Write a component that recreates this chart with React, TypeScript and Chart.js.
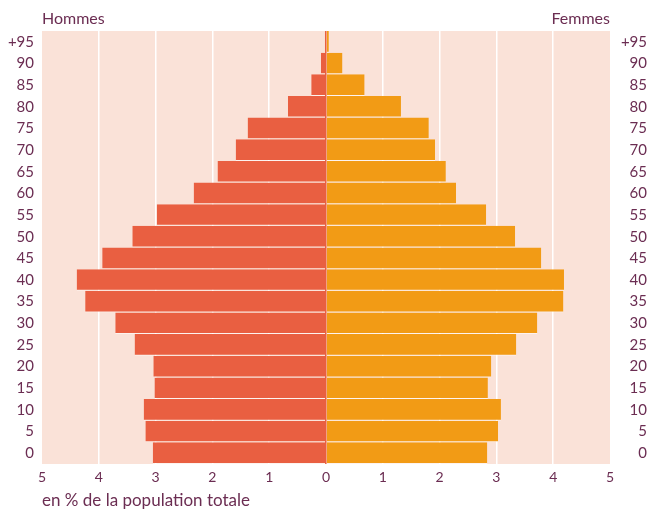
import { useEffect, useRef } from "react";
import { Chart, registerables } from "chart.js";

Chart.register(...registerables);

const ageGroups = ["+95", "90", "85", "80", "75", "70", "65", "60", "55", "50", "45", "40", "35", "30", "25", "20", "15", "10", "5", "0"];
const hommes = [0.02, 0.09, 0.26, 0.67, 1.38, 1.59, 1.91, 2.33, 2.98, 3.41, 3.94, 4.39, 4.24, 3.71, 3.37, 3.04, 3.02, 3.21, 3.18, 3.05];
const femmes = [0.05, 0.29, 0.68, 1.32, 1.81, 1.92, 2.11, 2.29, 2.82, 3.33, 3.79, 4.19, 4.18, 3.72, 3.35, 2.91, 2.85, 3.08, 3.03, 2.84];
const xMin = -5;
const xMax = 5;

const TEXT = "#6b2d52";
const FONT = "Lato";
const RED = "#e95f41";
const ORANGE = "#f29b15";

export default function App() {
  const ref = useRef<HTMLCanvasElement | null>(null);

  useEffect(() => {
    if (!ref.current) return;
    const bgPlugin = {
      id: "bg",
      beforeDraw(chart: any) {
        const { ctx, chartArea } = chart;
        ctx.save();
        ctx.fillStyle = "#fae2d8";
        ctx.fillRect(chartArea.left, chartArea.top, chartArea.right - chartArea.left, chartArea.bottom - chartArea.top);
        ctx.restore();
      },
      afterDraw(chart: any) {
        const { ctx, chartArea } = chart;
        ctx.save();
        ctx.fillStyle = TEXT;
        ctx.textBaseline = "alphabetic";
        ctx.font = `16px ${FONT}`;
        ctx.textAlign = "left";
        ctx.fillText("Hommes", chartArea.left, 24);
        ctx.textAlign = "right";
        ctx.fillText("Femmes", chartArea.right, 24);
        ctx.font = `17px ${FONT}`;
        ctx.textAlign = "left";
        ctx.fillText("en % de la population totale", chartArea.left, 506);
        ctx.restore();
      },
    };

    const barCommon = {
      borderColor: "rgba(255,255,255,0.6)",
      borderWidth: { top: 0, left: 0, right: 0, bottom: 1 },
      borderSkipped: false,
      inflateAmount: 0,
      barPercentage: 1,
      categoryPercentage: 1,
    };

    const chart = new Chart(ref.current, {
      type: "bar",
      data: {
        labels: ageGroups,
        datasets: [
          {
            label: "Hommes",
            data: hommes.map((v) => -v),
            backgroundColor: RED,
            ...barCommon,
          },
          {
            label: "Femmes",
            data: femmes,
            backgroundColor: ORANGE,
            ...barCommon,
          },
        ],
      },
      options: {
        indexAxis: "y",
        responsive: false,
        animation: false,
        layout: { padding: { top: 31, right: 2, left: 0, bottom: 0 } },
        plugins: {
          legend: { display: false },
          tooltip: { enabled: false },
        },
        scales: {
          x: {
            stacked: true,
            min: xMin,
            max: xMax,
            afterFit: (s: any) => {
              s.height = 46;
            },
            ticks: {
              stepSize: 1,
              color: TEXT,
              font: { family: FONT, size: 14 },
              padding: 5,
              callback: (v: any) => String(Math.abs(Number(v))),
            },
            grid: {
              drawTicks: false,
              lineWidth: 1.5,
              color: (c: any) => {
                const v = c.tick ? c.tick.value : 0;
                if (v === 0) return RED;
                return v === xMin || v === xMax ? "rgba(0,0,0,0)" : "#ffffff";
              },
            },
            border: { display: false },
          },
          y: {
            stacked: true,
            position: "left",
            afterFit: (s: any) => {
              s.width = 42;
            },
            ticks: {
              color: TEXT,
              font: { family: FONT, size: 15 },
              padding: 8,
            },
            grid: { display: false, drawTicks: false },
            border: { display: false },
          },
          y2: {
            type: "category",
            labels: ageGroups,
            position: "right",
            offset: true,
            afterFit: (s: any) => {
              s.width = 37;
            },
            ticks: {
              color: TEXT,
              font: { family: FONT, size: 15 },
              padding: 8,
              crossAlign: "far",
            },
            grid: { display: false, drawTicks: false },
            border: { display: false },
          },
        },
      } as any,
      plugins: [bgPlugin],
    });
    return () => chart.destroy();
  }, []);

  return (
    <div style={{ position: "fixed", left: 0, top: 0, width: 649, height: 510, background: "#fff" }}>
      <canvas ref={ref} width={649} height={510} style={{ display: "block" }} />
    </div>
  );
}
